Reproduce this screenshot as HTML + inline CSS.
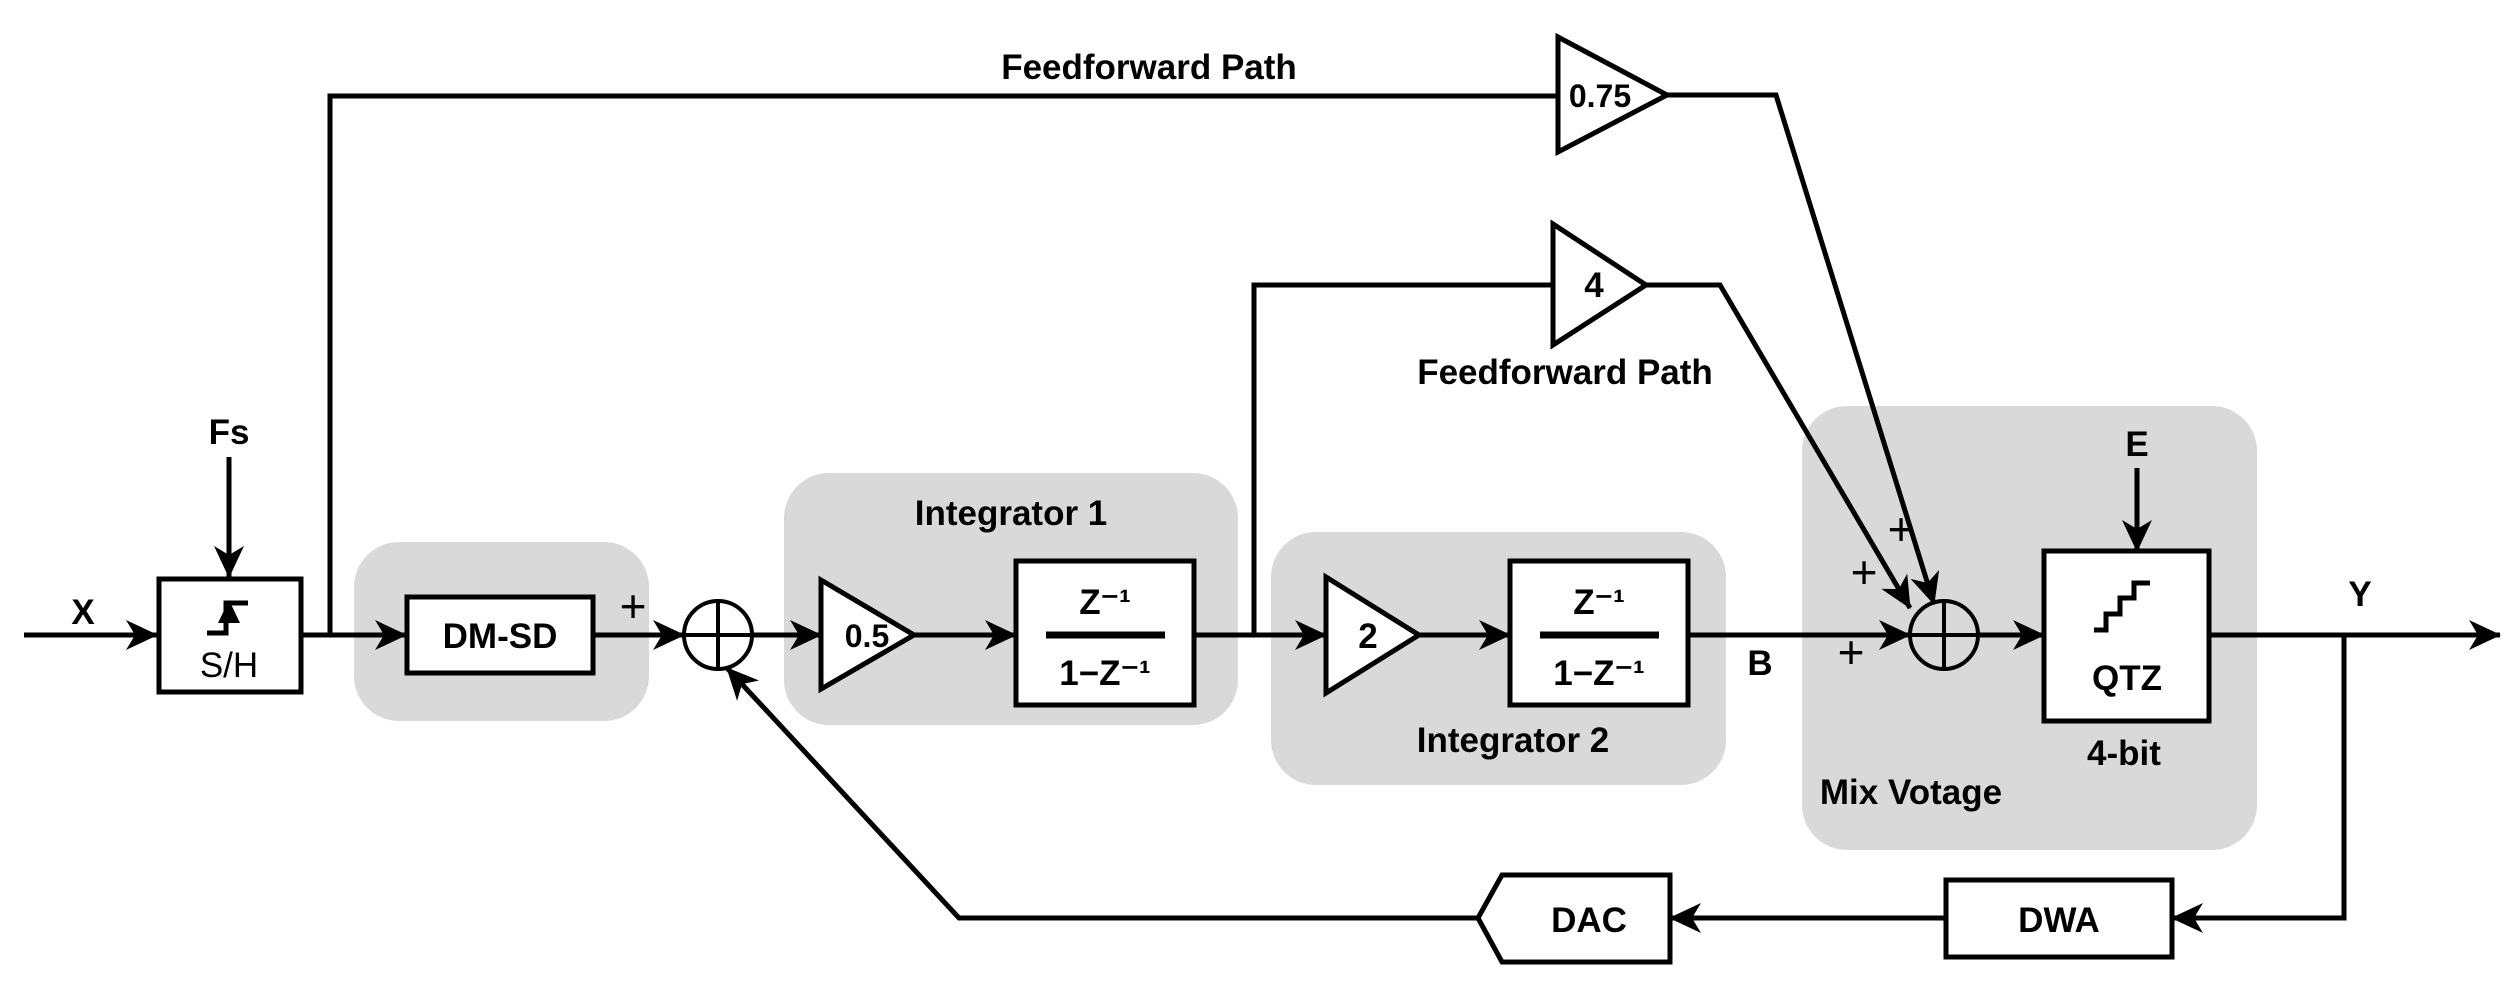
<!DOCTYPE html>
<html><head><meta charset="utf-8"><style>
html,body{margin:0;padding:0;background:#fff;}
svg{display:block;}
text{font-family:"Liberation Sans",sans-serif;font-weight:bold;fill:#000;}
</style></head><body>
<svg width="2514" height="992" viewBox="0 0 2514 992" xmlns="http://www.w3.org/2000/svg">
<defs>
<marker id="a" viewBox="0 0 32 30" refX="31" refY="15" markerWidth="32" markerHeight="30" markerUnits="userSpaceOnUse" orient="auto">
<path d="M0,0 L32,15 L0,30 L9,15 Z" fill="#000"/>
</marker>
</defs>
<g fill="#d9d9d9">
<rect x="354" y="542" width="295" height="179" rx="45"/>
<rect x="784" y="473" width="454" height="252" rx="45"/>
<rect x="1271" y="532" width="455" height="253" rx="45"/>
<rect x="1802" y="406" width="455" height="444" rx="45"/>
</g>
<g stroke="#000" stroke-width="5" fill="none">
<line x1="24" y1="635" x2="157" y2="635" marker-end="url(#a)"/>
<line x1="229" y1="457" x2="229" y2="577" marker-end="url(#a)"/>
<rect x="159" y="579" width="142" height="113" fill="#fff"/>
<line x1="301" y1="635" x2="406" y2="635" marker-end="url(#a)"/>
<polyline points="330,635 330,96 1558,96"/>
<polygon points="1558,37 1667,95 1558,152" fill="#fff"/>
<polyline points="1667,95 1776,95 1934,604" marker-end="url(#a)"/>
<rect x="407" y="597" width="186" height="76" fill="#fff"/>
<line x1="593" y1="635" x2="684" y2="635" marker-end="url(#a)"/>
<ellipse cx="718" cy="635" rx="34" ry="34" stroke-width="4"/>
<line x1="684" y1="635" x2="752" y2="635" stroke-width="4"/>
<line x1="718" y1="601" x2="718" y2="669" stroke-width="4"/>
<line x1="752" y1="635" x2="821" y2="635" marker-end="url(#a)"/>
<polygon points="821,580 914,635 821,689" fill="#fff"/>
<line x1="914" y1="635" x2="1016" y2="635" marker-end="url(#a)"/>
<rect x="1016" y="561" width="178" height="144" fill="#fff"/>
<line x1="1046" y1="635" x2="1165" y2="635" stroke-width="7"/>
<line x1="1194" y1="635" x2="1326" y2="635" marker-end="url(#a)"/>
<polyline points="1254,635 1254,285 1553,285"/>
<polygon points="1553,224 1646,285 1553,345" fill="#fff"/>
<polyline points="1646,285 1720,285 1910,608" marker-end="url(#a)"/>
<polygon points="1326,577 1419,635 1326,693" fill="#fff"/>
<line x1="1419" y1="635" x2="1510" y2="635" marker-end="url(#a)"/>
<rect x="1510" y="561" width="178" height="144" fill="#fff"/>
<line x1="1540" y1="635" x2="1659" y2="635" stroke-width="7"/>
<line x1="1688" y1="635" x2="1910" y2="635" marker-end="url(#a)"/>
<ellipse cx="1944" cy="635" rx="34" ry="34" stroke-width="4"/>
<line x1="1910" y1="635" x2="1978" y2="635" stroke-width="4"/>
<line x1="1944" y1="601" x2="1944" y2="669" stroke-width="4"/>
<line x1="1978" y1="635" x2="2044" y2="635" marker-end="url(#a)"/>
<line x1="2137" y1="468" x2="2137" y2="551" marker-end="url(#a)"/>
<rect x="2044" y="551" width="165" height="170" fill="#fff"/>
<polyline points="2094,630 2106,630 2106,614 2120,614 2120,598 2134,598 2134,583 2150,583" stroke-width="5"/>
<line x1="2209" y1="635" x2="2500" y2="635" marker-end="url(#a)"/>
<polyline points="2344,635 2344,918 2172,918" marker-end="url(#a)"/>
<rect x="1946" y="880" width="226" height="77" fill="#fff"/>
<line x1="1946" y1="918" x2="1670" y2="918" marker-end="url(#a)"/>
<polygon points="1478,918 1502,875 1670,875 1670,962 1502,962" fill="#fff"/>
<polyline points="1478,918 959,918 727,668" marker-end="url(#a)"/>
<polyline points="207,633 226,633 226,603 248,603" stroke-width="5"/>
</g>
<polygon points="229,600 218,623 240,623" fill="#000"/>
<g font-size="35">
<text x="83" y="624" text-anchor="middle">X</text>
<text x="229" y="444" text-anchor="middle">Fs</text>
<text x="229" y="677" text-anchor="middle" style="font-weight:normal">S/H</text>
<text x="500" y="648" text-anchor="middle">DM-SD</text>
<text x="867" y="647" text-anchor="middle" font-size="32">0.5</text>
<text x="1368" y="648" text-anchor="middle">2</text>
<text x="1594" y="297" text-anchor="middle">4</text>
<text x="1600" y="107" text-anchor="middle" font-size="32">0.75</text>
<text x="1105" y="614" text-anchor="middle">Z⁻¹</text>
<text x="1105" y="685" text-anchor="middle">1−Z⁻¹</text>
<text x="1599" y="614" text-anchor="middle">Z⁻¹</text>
<text x="1599" y="685" text-anchor="middle">1−Z⁻¹</text>
<text x="1149" y="79" text-anchor="middle">Feedforward Path</text>
<text x="1565" y="384" text-anchor="middle">Feedforward Path</text>
<text x="1011" y="525" text-anchor="middle">Integrator 1</text>
<text x="1513" y="752" text-anchor="middle">Integrator 2</text>
<text x="1760" y="675" text-anchor="middle">B</text>
<text x="2137" y="456" text-anchor="middle">E</text>
<text x="2127" y="690" text-anchor="middle">QTZ</text>
<text x="2124" y="765" text-anchor="middle">4-bit</text>
<text x="1911" y="804" text-anchor="middle">Mix Votage</text>
<text x="2360" y="606" text-anchor="middle">Y</text>
<text x="2059" y="932" text-anchor="middle">DWA</text>
<text x="1589" y="932" text-anchor="middle">DAC</text>
</g>
<g font-size="46">
<text x="633" y="622" text-anchor="middle" style="font-weight:normal">+</text>
<text x="1901" y="545" text-anchor="middle" style="font-weight:normal">+</text>
<text x="1864" y="588" text-anchor="middle" style="font-weight:normal">+</text>
<text x="1851" y="668" text-anchor="middle" style="font-weight:normal">+</text>
</g>
</svg>
</body></html>
